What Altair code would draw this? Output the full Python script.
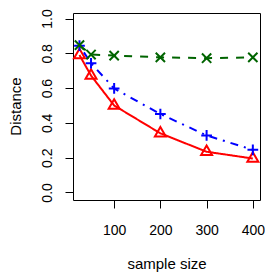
import altair as alt
import pandas as pd

sizes = [25, 50, 100, 200, 300, 400]
red_vals = [0.79, 0.672, 0.50, 0.34, 0.234, 0.195]
blue_vals = [0.844, 0.743, 0.598, 0.451, 0.328, 0.245]
green_vals = [0.847, 0.793, 0.787, 0.777, 0.772, 0.777]

x_ticks = [100, 200, 300, 400]
y_ticks = [0.0, 0.2, 0.4, 0.6, 0.8, 1.0]

FONT = "Liberation Sans"
FS = 14
TFS = 15

rows = []
for name, vals in [("red", red_vals), ("blue", blue_vals), ("green", green_vals)]:
    for s, v in zip(sizes, vals):
        rows.append({"size": s, "value": v, "series": name})
df = pd.DataFrame(rows)

xs = alt.Scale(domain=[11, 415.5], nice=False, zero=False)
ys = alt.Scale(domain=[-0.0436, 1.032], nice=False, zero=False)

x_axis = alt.Axis(values=x_ticks, title="sample size", grid=False, domain=False,
                  tickColor="black", tickSize=8, tickWidth=1,
                  labelFont=FONT, labelFontSize=FS, labelColor="black",
                  labelBaseline="alphabetic", labelPadding=26, labelAlign="center",
                  labelOverlap=False, labelBound=False, labelFlush=False,
                  titleFont=FONT, titleFontSize=TFS, titleFontWeight="normal",
                  titleColor="black", titleBaseline="alphabetic", titleY=68)
y_axis = alt.Axis(values=y_ticks, title="Distance", grid=False, domain=False,
                  format=".1f", tickColor="black", tickSize=8, tickWidth=1,
                  labelFont=FONT, labelFontSize=FS, labelColor="black",
                  labelAngle=270, labelAlign="center", labelBaseline="alphabetic",
                  labelPadding=14, labelOverlap=False, labelBound=False, labelFlush=False,
                  titleFont=FONT, titleFontSize=TFS, titleFontWeight="normal",
                  titleColor="black", titleAngle=270, titleBaseline="alphabetic",
                  titleAlign="center", titleX=-53, titleY=93)

PLUS = "M-1,0H1M0,-1V1"
XSHAPE = "M-1,-1L1,1M-1,1L1,-1"
TRI = "M0,-1L0.866,0.5L-0.866,0.5Z"

specs = [
    ("red", "#FF0000", [1, 0], TRI, 160),
    ("blue", "#0000FF", [2, 6, 8, 6], PLUS, 115),
    ("green", "#006400", [8, 8], XSHAPE, 86),
]

layers = []
for name, color, dash, shape, size in specs:
    sub = alt.Chart().transform_filter(alt.datum.series == name)
    line = sub.mark_line(color=color, strokeWidth=2, strokeDash=dash)
    pts = sub.mark_point(shape=shape, size=size, filled=False, color=color,
                         strokeWidth=2, opacity=1)
    layers += [line, pts]

chart = alt.layer(*layers, data=df).encode(
    x=alt.X("size:Q", scale=xs, axis=x_axis),
    y=alt.Y("value:Q", scale=ys, axis=y_axis),
).properties(
    width=187, height=187,
    autosize=alt.AutoSizeParams(type="none"),
    padding={"left": 65, "top": 5, "right": 5, "bottom": 73},
).configure(background="white").configure_view(stroke="black", strokeWidth=1)

chart.save("out.html", embed_options={"renderer": "svg", "actions": False})
